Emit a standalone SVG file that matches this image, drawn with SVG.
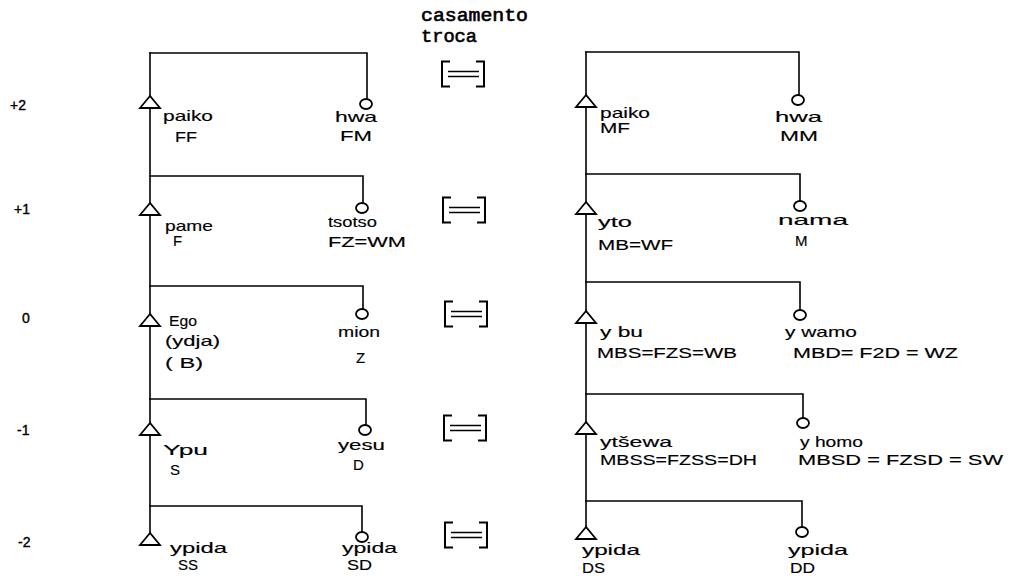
<svg xmlns="http://www.w3.org/2000/svg" width="1011" height="580" viewBox="0 0 1011 580">
<style>
.ln{stroke:#000;stroke-width:1.6;fill:none;stroke-linecap:square}
.m{fill:#fff;stroke:#000;stroke-width:1.8}
.t{font-family:"Liberation Sans",Arial,sans-serif;font-size:15px;fill:#000;stroke:#000;stroke-width:0.15}
.g{font-family:"Liberation Sans",Arial,sans-serif;font-size:14px;fill:#000;stroke:#000;stroke-width:0.4}
.h{font-family:"Liberation Mono","Courier New",monospace;font-size:18px;fill:#000;stroke:#000;stroke-width:0.6}
.br{stroke:#000;stroke-width:2;fill:none}
.eq{stroke:#000;stroke-width:1.6}
</style>
<defs>
<polygon id="tri" points="0,-6 -10,6 10,6"/>
<g id="brk">
<path class="br" d="M8,-12.5 H0 V12.5 H8 M34,-12.5 H42 V12.5 H34"/>
<path class="eq" d="M6,-2.5 H37 M6,2.5 H37"/>
</g>
</defs>
<rect width="1011" height="580" fill="#fff"/>

<g id="connectors">
<!-- left tree -->
<path class="ln" d="M150,53 V540"/>
<path class="ln" d="M150,53 H367 V98"/>
<path class="ln" d="M150,176 H363 V202"/>
<path class="ln" d="M150,286 H363 V309"/>
<path class="ln" d="M150,399 H366 V424"/>
<path class="ln" d="M150,506 H362 V531"/>
<!-- right tree -->
<path class="ln" d="M586,52 V534"/>
<path class="ln" d="M586,52 H799 V95"/>
<path class="ln" d="M586,174 H800 V201"/>
<path class="ln" d="M586,282 H800 V310"/>
<path class="ln" d="M586,394 H803 V418"/>
<path class="ln" d="M586,501 H802 V527"/>
</g>

<g id="header">
<text class="h" x="421" y="21" textLength="107" lengthAdjust="spacingAndGlyphs">casamento</text>
<text class="h" x="421" y="42" textLength="56" lengthAdjust="spacingAndGlyphs">troca</text>
</g>

<g id="generations">
<text class="g" x="10" y="110">+2</text>
<text class="g" x="14" y="214">+1</text>
<text class="g" x="22" y="323">0</text>
<text class="g" x="17" y="435">-1</text>
<text class="g" x="18" y="547">-2</text>
</g>

<g id="exchange">
<use href="#brk" x="442" y="74"/>
<use href="#brk" x="443" y="210"/>
<use href="#brk" x="445" y="314"/>
<use href="#brk" x="444" y="428"/>
<use href="#brk" x="445" y="535"/>
</g>

<!-- left tree nodes -->
<g id="L-FF">
<use href="#tri" class="m" x="150" y="102"/>
<text class="t" x="163" y="121" textLength="50" lengthAdjust="spacingAndGlyphs">paiko</text>
<text class="t" x="175" y="142" textLength="22" lengthAdjust="spacingAndGlyphs">FF</text>
</g>
<g id="L-FM">
<ellipse class="m" cx="366" cy="104" rx="6" ry="5"/>
<text class="t" x="335" y="122" textLength="42" lengthAdjust="spacingAndGlyphs">hwa</text>
<text class="t" x="340" y="141" textLength="32" lengthAdjust="spacingAndGlyphs">FM</text>
</g>
<g id="L-F">
<use href="#tri" class="m" x="150" y="209"/>
<text class="t" x="165" y="231" textLength="48" lengthAdjust="spacingAndGlyphs">pame</text>
<text class="t" x="173" y="246">F</text>
</g>
<g id="L-FZ">
<ellipse class="m" cx="362" cy="208" rx="6" ry="5"/>
<text class="t" x="328" y="227" textLength="49" lengthAdjust="spacingAndGlyphs">tsotso</text>
<text class="t" x="328" y="247" textLength="78" lengthAdjust="spacingAndGlyphs">FZ=WM</text>
</g>
<g id="L-Ego">
<use href="#tri" class="m" x="150" y="320"/>
<text class="t" x="169" y="326" textLength="28" lengthAdjust="spacingAndGlyphs">Ego</text>
<text class="t" x="165" y="346" textLength="55" lengthAdjust="spacingAndGlyphs">(ydja)</text>
<text class="t" x="165" y="368" textLength="38" lengthAdjust="spacingAndGlyphs">( B)</text>
</g>
<g id="L-Z">
<ellipse class="m" cx="362" cy="314" rx="6" ry="5"/>
<text class="t" x="338" y="337" textLength="42" lengthAdjust="spacingAndGlyphs">mion</text>
<text class="t" x="356" y="363">Z</text>
</g>
<g id="L-S">
<use href="#tri" class="m" x="150" y="429"/>
<text class="t" x="163" y="455" textLength="45" lengthAdjust="spacingAndGlyphs">Ypu</text>
<text class="t" x="170" y="475">S</text>
</g>
<g id="L-D">
<ellipse class="m" cx="365" cy="430" rx="6" ry="5"/>
<text class="t" x="338" y="450" textLength="47" lengthAdjust="spacingAndGlyphs">yesu</text>
<text class="t" x="353" y="470">D</text>
</g>
<g id="L-SS">
<use href="#tri" class="m" x="150" y="539"/>
<text class="t" x="170" y="553" textLength="57" lengthAdjust="spacingAndGlyphs">ypida</text>
<text class="t" x="178" y="570" textLength="20" lengthAdjust="spacingAndGlyphs">SS</text>
</g>
<g id="L-SD">
<ellipse class="m" cx="362" cy="537" rx="6" ry="5"/>
<text class="t" x="342" y="553" textLength="55" lengthAdjust="spacingAndGlyphs">ypida</text>
<text class="t" x="347" y="570" textLength="25" lengthAdjust="spacingAndGlyphs">SD</text>
</g>

<!-- right tree nodes -->
<g id="R-MF">
<use href="#tri" class="m" x="586" y="101"/>
<text class="t" x="600" y="118" textLength="50" lengthAdjust="spacingAndGlyphs">paiko</text>
<text class="t" x="600" y="133" textLength="30" lengthAdjust="spacingAndGlyphs">MF</text>
</g>
<g id="R-MM">
<ellipse class="m" cx="798" cy="100" rx="6" ry="5"/>
<text class="t" x="775" y="122" textLength="47" lengthAdjust="spacingAndGlyphs">hwa</text>
<text class="t" x="780" y="141" textLength="38" lengthAdjust="spacingAndGlyphs">MM</text>
</g>
<g id="R-MB">
<use href="#tri" class="m" x="586" y="208"/>
<text class="t" x="598" y="227" textLength="34" lengthAdjust="spacingAndGlyphs">yto</text>
<text class="t" x="598" y="250" textLength="75" lengthAdjust="spacingAndGlyphs">MB=WF</text>
</g>
<g id="R-M">
<ellipse class="m" cx="800" cy="206" rx="6" ry="5"/>
<text class="t" x="778" y="225" textLength="70" lengthAdjust="spacingAndGlyphs">nama</text>
<text class="t" x="795" y="246">M</text>
</g>
<g id="R-MBS">
<use href="#tri" class="m" x="586" y="317"/>
<text class="t" x="600" y="337" textLength="43" lengthAdjust="spacingAndGlyphs">y bu</text>
<text class="t" x="597" y="358" textLength="140" lengthAdjust="spacingAndGlyphs">MBS=FZS=WB</text>
</g>
<g id="R-MBD">
<ellipse class="m" cx="800" cy="315" rx="6" ry="5"/>
<text class="t" x="785" y="337" textLength="72" lengthAdjust="spacingAndGlyphs">y wamo</text>
<text class="t" x="793" y="358" textLength="165" lengthAdjust="spacingAndGlyphs">MBD= F2D = WZ</text>
</g>
<g id="R-MBSS">
<use href="#tri" class="m" x="586" y="428"/>
<text class="t" x="600" y="447" textLength="72" lengthAdjust="spacingAndGlyphs">ytšewa</text>
<text class="t" x="600" y="465" textLength="157" lengthAdjust="spacingAndGlyphs">MBSS=FZSS=DH</text>
</g>
<g id="R-MBSD">
<ellipse class="m" cx="803" cy="423" rx="6" ry="5"/>
<text class="t" x="800" y="447" textLength="63" lengthAdjust="spacingAndGlyphs">y homo</text>
<text class="t" x="798" y="465" textLength="205" lengthAdjust="spacingAndGlyphs">MBSD = FZSD = SW</text>
</g>
<g id="R-DS">
<use href="#tri" class="m" x="586" y="533"/>
<text class="t" x="582" y="555" textLength="58" lengthAdjust="spacingAndGlyphs">ypida</text>
<text class="t" x="582" y="573" textLength="23" lengthAdjust="spacingAndGlyphs">DS</text>
</g>
<g id="R-DD">
<ellipse class="m" cx="802" cy="532" rx="6" ry="5"/>
<text class="t" x="788" y="555" textLength="60" lengthAdjust="spacingAndGlyphs">ypida</text>
<text class="t" x="790" y="573" textLength="25" lengthAdjust="spacingAndGlyphs">DD</text>
</g>
</svg>
